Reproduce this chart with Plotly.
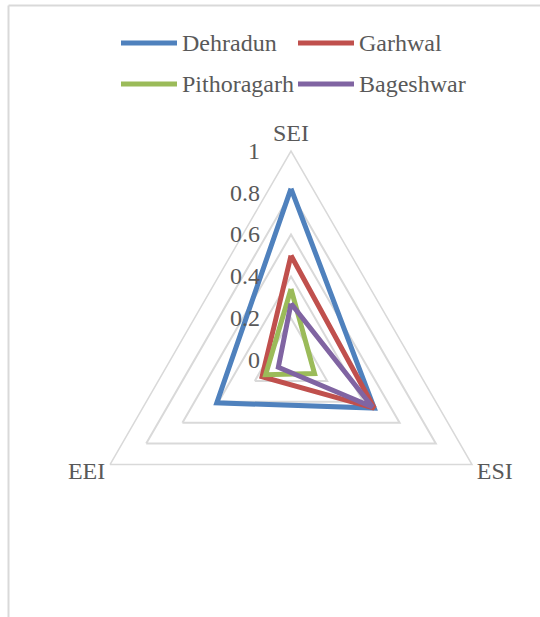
import plotly.graph_objects as go

categories = ["SEI", "ESI", "EEI"]
category_labels = ["SEI", "ESI<br> ", "EEI<br> "]
series_names = ["Dehradun", "Garhwal", "Pithoragarh", "Bageshwar"]
dehradun = [0.82, 0.46, 0.41]
garhwal = [0.50, 0.46, 0.16]
pithoragarh = [0.34, 0.13, 0.14]
bageshwar = [0.27, 0.45, 0.07]
radial_ticks = [0, 0.2, 0.4, 0.6, 0.8, 1]
radial_ticktext = ["0", "0.2", "0.4", "0.6", "0.8", "1"]

colors = ["#4F81BD", "#C0504D", "#9BBB59", "#8064A2"]
FONT = "Times New Roman, Liberation Serif, serif"
GREY = "#595959"
GRID = "#D9D9D9"

fig = go.Figure()
for name, vals, col in zip(series_names, [dehradun, garhwal, pithoragarh, bageshwar], colors):
    fig.add_trace(go.Scatterpolar(
        r=vals + vals[:1], theta=categories + categories[:1],
        mode="lines", name=name, showlegend=False,
        line=dict(color=col, width=5, shape="linear"),
    ))

W, H = 540, 617
cx, cy, R = 291, 360, 209
fig.update_layout(
    width=W, height=H, margin=dict(l=0, r=0, t=0, b=0),
    paper_bgcolor="white", plot_bgcolor="white",
    font=dict(family=FONT, size=24, color=GREY),
    polar=dict(
        domain=dict(x=[(cx - R) / W, (cx + R) / W], y=[1 - (cy + R) / H, 1 - (cy - R) / H]),
        bgcolor="white",
        gridshape="linear",
        angularaxis=dict(direction="clockwise", rotation=90, showline=True,
                         linecolor=GRID, linewidth=1.5, showgrid=False, ticks="",
                         tickmode="array", tickvals=categories, ticktext=category_labels,
                         tickfont=dict(family=FONT, size=24, color=GREY)),
        radialaxis=dict(range=[0, 1], tickvals=radial_ticks, ticktext=radial_ticktext,
                        showline=False, gridcolor=GRID, gridwidth=1.5,
                        ticks="outside", ticklen=22, tickcolor="rgba(0,0,0,0)",
                        angle=90, side="counterclockwise", tickangle=90,
                        tickfont=dict(family=FONT, size=24, color=GREY)),
    ),
)

# chart area border (top and left edges visible)
fig.add_shape(type="line", xref="paper", yref="paper", x0=8.5 / W, x1=1, y0=1 - 5.5 / H, y1=1 - 5.5 / H,
              line=dict(color=GRID, width=2))
fig.add_shape(type="line", xref="paper", yref="paper", x0=8.5 / W, x1=8.5 / W, y0=0, y1=1 - 5.5 / H,
              line=dict(color=GRID, width=2))

# legend (2 x 2)
leg_pos = [(121, 43), (298, 43), (121, 84), (298, 84)]
for name, col, (lx, ly) in zip(series_names, colors, leg_pos):
    fig.add_shape(type="line", xref="paper", yref="paper", x0=lx / W, x1=(lx + 56) / W,
                  y0=1 - ly / H, y1=1 - ly / H, line=dict(color=col, width=5))
    fig.add_annotation(xref="paper", yref="paper", x=(lx + 59) / W, y=1 - ly / H,
                       text=name, showarrow=False, xanchor="left", yanchor="middle",
                       font=dict(family=FONT, size=24, color=GREY))

fig.write_html("out.html", config={"displayModeBar": False},
               post_script="document.body.style.margin='0px';")
